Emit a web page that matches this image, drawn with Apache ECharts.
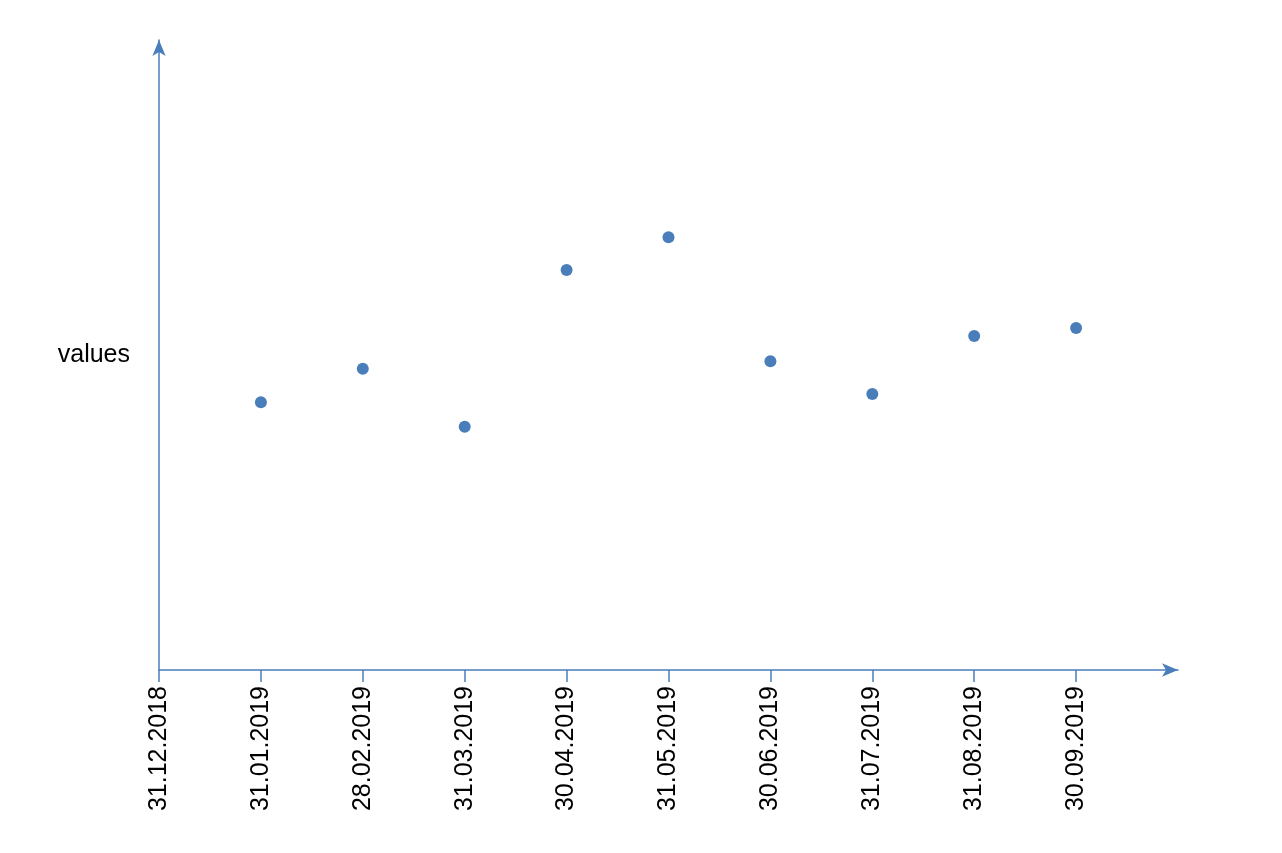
<!DOCTYPE html>
<html><head><meta charset="utf-8">
<script src="https://cdn.jsdelivr.net/npm/echarts@6/dist/echarts.min.js"></script>
<style>html,body{margin:0;padding:0;background:#fff}#c{width:1282px;height:853px}</style>
</head><body><div id="c"></div>
<script>
const categories = ['31.12.2018','31.01.2019','28.02.2019','31.03.2019','30.04.2019','31.05.2019','30.06.2019','31.07.2019','31.08.2019','30.09.2019',''];
const values = [null,42.5,47.8,38.6,63.5,68.7,49.0,43.8,53.0,54.3];
const col = '#4a7ebb';
const chart = echarts.init(document.getElementById('c'));
chart.setOption({
  animation:false,
  grid:{left:159,right:104,top:40,bottom:183},
  xAxis:{type:'category',data:categories,boundaryGap:false,
    axisLine:{lineStyle:{color:col,width:1.5},symbol:['none','arrow'],symbolSize:[10,16]},
    axisTick:{length:12,lineStyle:{color:col,width:1.5},interval:(i,v)=>v!==''},
    axisLabel:{rotate:90,color:'#000',fontSize:25,fontFamily:'Liberation Sans, Arial',margin:16,interval:0},
    splitLine:{show:false}},
  yAxis:{type:'value',min:0,max:100,name:'values',nameLocation:'middle',nameRotate:0,nameGap:29,
    nameTextStyle:{color:'#000',fontSize:25,fontFamily:'Liberation Sans, Arial',align:'right'},
    axisLine:{show:true,lineStyle:{color:col,width:1.5},symbol:['none','arrow'],symbolSize:[10,16]},
    axisTick:{show:false},axisLabel:{show:false},splitLine:{show:false}},
  series:[{type:'scatter',data:values,symbolSize:12,itemStyle:{color:col,opacity:1}}]
});
</script></body></html>
